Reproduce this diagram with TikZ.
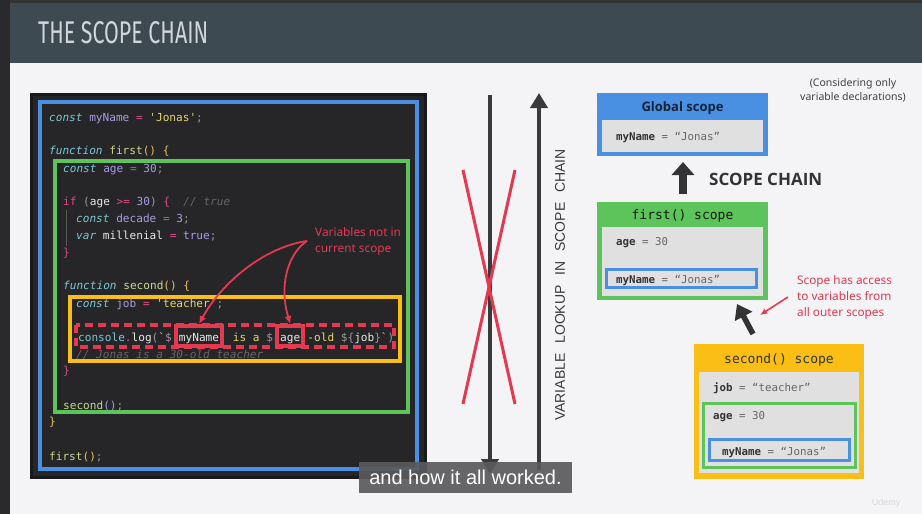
\documentclass[tikz,border=0pt]{standalone}
\usepackage{fontspec}
\usepackage{graphicx}
\usetikzlibrary{arrows.meta,positioning}

\setmonofont{DejaVu Sans Mono}
\newfontfamily\notefont{Noto Sans}
\newfontfamily\headfont{Open Sans}
\newfontfamily\arialfont{Liberation Sans}
\newfontfamily\titlefont{Fira Sans}

\definecolor{pagebg}{HTML}{F4F3F6}
\definecolor{barbg}{HTML}{3D4A52}
\definecolor{stripbg}{HTML}{2A2A2C}
\definecolor{titlegray}{HTML}{CFD5DA}
\definecolor{codebg}{HTML}{262629}
\definecolor{codeframe}{HTML}{19191B}
\definecolor{jsblue}{HTML}{4A90E2}
\definecolor{jsgreen}{HTML}{5DC35B}
\definecolor{jsorange}{HTML}{FBBE14}
\definecolor{jsred}{HTML}{E5394F}
\definecolor{innergray}{HTML}{E0E0E0}
\definecolor{arrowdark}{HTML}{3A3A3C}
\definecolor{capgray}{HTML}{5A5A5C}
\definecolor{ckw}{HTML}{7CC6D6}
\definecolor{cvar}{HTML}{A69DE3}
\definecolor{cop}{HTML}{DB4B8A}
\definecolor{cstr}{HTML}{E6D46E}
\definecolor{cfn}{HTML}{C8D98E}
\definecolor{cbr}{HTML}{E9C44F}
\definecolor{cpun}{HTML}{9B9B9B}
\definecolor{cwht}{HTML}{E8E8E8}
\definecolor{ccom}{HTML}{666666}

% code colouring
\newcommand{\cKw}[1]{\textcolor{ckw}{\itshape #1}}
\newcommand{\cVar}[1]{\textcolor{cvar}{#1}}
\newcommand{\cOp}[1]{\textcolor{cop}{#1}}
\newcommand{\cStr}[1]{\textcolor{cstr}{#1}}
\newcommand{\cFn}[1]{\textcolor{cfn}{#1}}
\newcommand{\cBr}[1]{\textcolor{cbr}{#1}}
\newcommand{\cPun}[1]{\textcolor{cpun}{#1}}
\newcommand{\cWh}[1]{\textcolor{cwht}{#1}}
\newcommand{\cCom}[1]{\textcolor{ccom}{\itshape #1}}
\newcommand{\varpair}[2]{\textbf{\textcolor{black!80}{#1}} \textcolor{black!60}{= #2}}

\tikzset{
  codeline/.style={anchor=base west, inner sep=0, font=\ttfamily\fontsize{11.1}{13}\selectfont},
  vartext/.style={anchor=base west, inner sep=0, font=\ttfamily\fontsize{10.8}{13}\selectfont},
  boxtitle/.style={inner sep=0, font=\ttfamily\fontsize{13}{15}\selectfont},
  scopefill/.style={anchor=north west, inner sep=0, outer sep=0},
  rednote/.style={anchor=west, inner sep=0, align=left, text=jsred,
    font=\notefont\fontsize{11.8}{16}\selectfont},
  redframe/.style={draw=jsred, line width=4},
  markbox/.style={redframe, anchor=base west, text=cwht, inner xsep=3pt, inner ysep=0pt,
    text height=15pt, text depth=5pt, font=\ttfamily\fontsize{11.1}{13}\selectfont},
}

\begin{document}
\begin{tikzpicture}[x=1pt,y=-1pt]
	\useasboundingbox (0,0) rectangle (922,514);
	\fill[pagebg] (0,0) rectangle (922,514);
	% title bar
	\fill[barbg] (10,0) rectangle (922,63);
	\fill[black!80] (0,0) rectangle (922,3);
	\fill[stripbg] (0,0) rectangle (10,514);
	\node[anchor=west, inner sep=0, text=titlegray] (title) at (38,33)
		{\resizebox{170pt}{22pt}{\titlefont THE SCOPE CHAIN}};

	% code panel
	\fill[codeframe] (30,93) rectangle (427,479);
	\fill[codebg] (33,96) rectangle (424,476);
	\draw[jsblue, line width=4] (40,102) rectangle (417,469);
	\draw[jsgreen, line width=4] (55,161) rectangle (408,412);
	\draw[jsorange, line width=4] (70,297) rectangle (400,361);
	\draw[black!65, line width=0.8] (66,210) -- (66,246);

	\node[codeline] (l1) at (49,121) {\cKw{const} \cVar{myName} \cOp{=} \cStr{'Jonas'}\cPun{;}};
	\node[codeline] (l2) at (49,154) {\cKw{function} \cFn{first}\cBr{() \{}};
	\node[codeline] (l3) at (63,172) {\cKw{const} \cVar{age} \cOp{=} \cVar{30}\cPun{;}};
	\node[codeline] (l4) at (63,205) {\cOp{if} \cPun{(}\cWh{age} \cOp{>=} \cVar{30}\cPun{)} \cOp{\{}~~\cCom{// true}};
	\node[codeline] (l5) at (76,222) {\cKw{const} \cVar{decade} \cOp{=} \cVar{3}\cPun{;}};
	\node[codeline] (l6) at (76,239) {\cKw{var} \cWh{millenial} \cOp{=} \cVar{true}\cPun{;}};
	\node[codeline] (l7) at (63,256) {\cOp{\}}};
	\node[codeline] (l8) at (63,289) {\cKw{function} \cFn{second}\cBr{() \{}};
	\node[codeline] (l9) at (76,307) {\cKw{const} \cVar{job} \cOp{=} \cStr{'teacher'}\cPun{;}};
	% console line, split round the two marked names
	\draw[redframe, line width=3.5, dash pattern=on 8pt off 5pt] (76,325) rectangle (394,347);
	\node[codeline] (l10a) at (78,341) {\textcolor{ckw}{console}\cOp{.}\cWh{log}\cPun{(}\cStr{`}\cPun{\$}};
	\node[markbox] (nameBox) at ([xshift=2pt]l10a.base east) {myName};
	\node[codeline] (l10b) at ([xshift=2pt]nameBox.base east) {\cStr{~is a }\cPun{\$}};
	\node[markbox] (ageBox) at ([xshift=2pt]l10b.base east) {age};
	\node[codeline] (l10c) at ([xshift=2pt]ageBox.base east) {\cStr{-old }\cPun{\$\{}\cWh{job}\cPun{\}}\cStr{`}\cPun{)}};
	\node[codeline] (l11) at (76,358) {\cCom{// Jonas is a 30-old teacher}};
	\node[codeline] (l12) at (63,374) {\cOp{\}}};
	\node[codeline] (l13) at (63,409) {\cFn{second}\cVar{()}\cPun{;}};
	\node[codeline] (l14) at (49,425) {\cBr{\}}};
	\node[codeline] (l15) at (49,460) {\cFn{first}\cBr{()}\cPun{;}};

	\node[rednote] (varNote) at (315,241) {Variables not in\\current scope};
	\coordinate (noteTip) at (307,241);
	\draw[jsred, line width=1.8, -{Latex[length=8pt,width=7pt]}]
		(noteTip) .. controls (265,247) and (222,282) .. (nameBox.north);
	\draw[jsred, line width=1.8, -{Latex[length=8pt,width=7pt]}]
		(noteTip) .. controls (290,252) and (278,282) .. (ageBox.north);

	% lookup arrows
	\coordinate (downTop) at (490,95);
	\coordinate (downTip) at (490,474);
	\coordinate (upTail) at (539,470);
	\coordinate (upTip) at (539,93);
	\draw[arrowdark, line width=4, -{Triangle[width=17pt,length=15pt]}] (downTop) -- (downTip);
	\draw[arrowdark, line width=4, -{Triangle[width=17pt,length=15pt]}] (upTail) -- (upTip);
	\draw[jsred, line width=3] (463,170) -- (515,404);
	\draw[jsred, line width=3] (515,170) -- (463,404);
	\node[rotate=90, inner sep=0, text=arrowdark, font=\arialfont\fontsize{14}{14}\selectfont] (lookupLabel) at (560,285)
		{VARIABLE\hspace{6pt} LOOKUP\hspace{6pt} IN\hspace{6pt} SCOPE\hspace{6pt} CHAIN};

	% scope boxes
	\node[align=center, inner sep=0, text=black!75, font=\notefont\fontsize{10.5}{14}\selectfont] (considerNote) at (853,90)
		{(Considering only\\variable declarations)};

	\node[scopefill, fill=jsblue, minimum width=171, minimum height=63] (globalBox) at (597,93) {};
	\node[inner sep=0, text=black!75!jsblue, font=\headfont\bfseries\fontsize{13}{15}\selectfont] (globalTitle) at (682.5,108) {Global scope};
	\node[scopefill, fill=innergray, minimum width=161, minimum height=32] (globalIn) at (602,120) {};
	\node[vartext] (globalName) at (616,140) {\varpair{myName}{“Jonas”}};

	\coordinate (chainTail) at (683,194);
	\coordinate (chainTip) at (683,162);
	\draw[black!80, line width=8, -{Triangle[width=22pt,length=13pt]}] (chainTail) -- (chainTip);
	\node[anchor=west, inner sep=0, text=black!80, font=\headfont\bfseries\fontsize{17}{20}\selectfont] (chainLabel) at (709,179) {SCOPE CHAIN};

	\node[scopefill, fill=jsgreen, minimum width=171, minimum height=98] (firstBox) at (597,202) {};
	\node[boxtitle, text=black!85!jsgreen] (firstTitle) at (682.5,216) {first() scope};
	\node[scopefill, fill=innergray, minimum width=161, minimum height=69] (firstIn) at (602,227) {};
	\node[vartext] (firstAge) at (616,245) {\varpair{age}{30}};
	\node[draw=jsblue, line width=3, fill=innergray, inner sep=0, minimum width=150, minimum height=18] (firstName) at (681.5,278.5) {};
	\node[vartext] (firstNameTxt) at (616,283) {\varpair{myName}{“Jonas”}};

	\node[rednote] (accessNote) at (797,297) {Scope has access\\to variables from\\all outer scopes};
	\coordinate (accessTail) at (788,297);
	\coordinate (accessTip) at (760,315);
	\draw[jsred, line width=1.6, -{Latex[length=7pt,width=6pt]}] (accessTail) -- (accessTip);
	\coordinate (cursorTail) at (753,334);
	\coordinate (cursorTip) at (737,304);
	\draw[black!80, line width=5.5, -{Triangle[width=19pt,length=14pt]}] (cursorTail) -- (cursorTip);

	\node[scopefill, fill=jsorange, minimum width=170, minimum height=135] (secondBox) at (694,344) {};
	\node[boxtitle, text=black!80] (secondTitle) at (779,360) {second() scope};
	\node[scopefill, fill=innergray, minimum width=160, minimum height=101] (secondIn) at (699,372) {};
	\node[vartext] (secondJob) at (713,391) {\varpair{job}{“teacher”}};
	\node[draw=jsgreen, line width=3, inner sep=0, minimum width=152, minimum height=64] (secondAgeBox) at (779.5,435.5) {};
	\node[vartext] (secondAge) at (713,419) {\varpair{age}{30}};
	\node[draw=jsblue, line width=3, inner sep=0, minimum width=140, minimum height=21] (secondNameBox) at (779.5,450) {};
	\node[vartext] (secondName) at (722,455) {\varpair{myName}{“Jonas”}};

	% video caption and watermark
	\node[fill=capgray, fill opacity=0.92, text opacity=1, text=white, inner sep=0, minimum width=213, minimum height=31,
		font=\arialfont\fontsize{20}{20}\selectfont] (caption) at (465.5,477.5) {and how it all worked.};
	\node[inner sep=0, text=black!15, font=\arialfont\fontsize{9}{9}\selectfont] (udemy) at (886,503) {Udemy};
\end{tikzpicture}
\end{document}
